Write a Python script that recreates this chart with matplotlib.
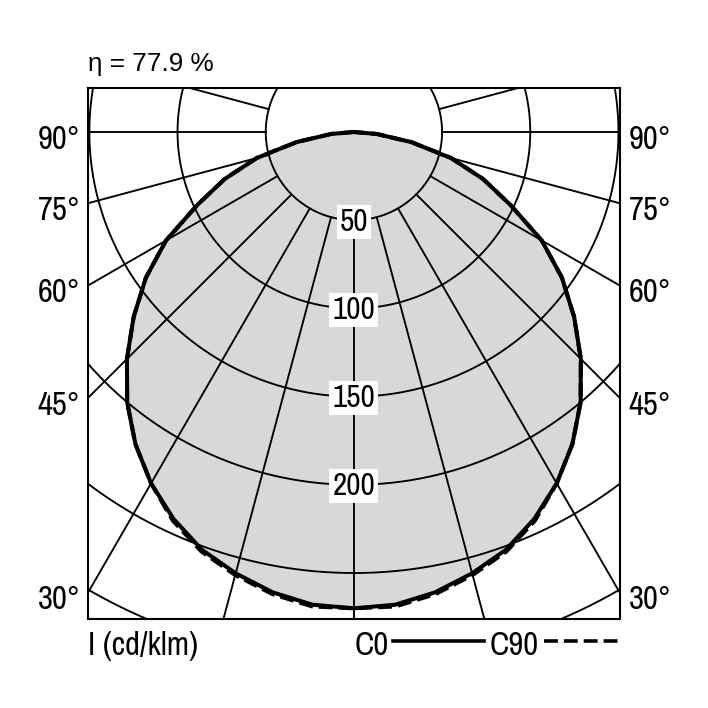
import numpy as np
import matplotlib
matplotlib.use('Agg')
import matplotlib.pyplot as plt
from matplotlib.lines import Line2D
from matplotlib import font_manager

# ---------------- data ----------------
gamma = [0, 5, 10, 15, 20, 25, 30, 35, 40, 45, 50, 55, 60, 65, 70, 75, 80, 85, 90]
c0 = [270, 269, 265, 259, 252, 242, 230, 216, 200, 182, 163, 144, 123, 98, 78, 57, 33, 13, 0]
c90 = [270, 270, 266, 260, 253, 243, 230, 216, 200, 182, 163, 144, 123, 98, 78, 57, 33, 13, 0]
rings = [50, 100, 150, 200, 250, 300, 350]
ring_labels = [50, 100, 150, 200]
spoke_step = 15
angle_labels = [90, 75, 60, 45, 30]
eta_text = "η = 77.9 %"
unit_text = "I (cd/klm)"
series_names = ["C0", "C90"]

# ---------------- fonts ----------------
narrow_fp = None
for f in font_manager.fontManager.ttflist:
    nm = f.name.lower()
    if 'dejavu' in nm:
        continue
    if ('narrow' in nm or 'condensed' in nm) and f.style == 'normal' and f.weight in (400, 'normal', 'regular'):
        narrow_fp = f.fname
        break

if narrow_fp:
    def NF(size):
        return font_manager.FontProperties(fname=narrow_fp, size=size)
    lab_size, ring_size = 23.5, 22.5
else:
    def NF(size):
        return font_manager.FontProperties(family=['Liberation Sans', 'DejaVu Sans'], size=size)
    lab_size, ring_size = 21, 20

plt.rcParams['lines.scale_dashes'] = False

W = 708
fig = plt.figure(figsize=(7.08, 7.08), dpi=100)
fig.patch.set_facecolor('white')

def fx(px):
    return px / W

def fy(py):
    return 1 - py / W

L, R, T, B = 88.3, 619.5, 87.7, 618.7
ax = fig.add_axes([fx(L), fy(B), (R - L) / W, (B - T) / W])
ax.set_xlim(-150.6, 150.6)
ax.set_ylim(-275.9, 25.1)
ax.set_xticks([])
ax.set_yticks([])
for s in ax.spines.values():
    s.set_linewidth(1.5)
    s.set_color('black')
    s.set_zorder(6)

def curve(vals):
    g = np.radians(np.concatenate([-np.array(gamma[::-1]), np.array(gamma[1:])]))
    I = np.concatenate([np.array(vals[::-1]), np.array(vals[1:])])
    return I * np.sin(g), -I * np.cos(g)

x0, y0 = curve(c0)
x9, y9 = curve(c90)

ax.fill(x9, y9, color='#d8d8d8', zorder=1, lw=0)
ax.fill(x0, y0, color='#d8d8d8', zorder=1, lw=0)

# grid
th = np.linspace(0, 2 * np.pi, 1441)
for r in rings:
    ax.plot(r * np.cos(th), r * np.sin(th), color='black', lw=1.35, zorder=2)
for a in range(0, 360, spoke_step):
    ar = np.radians(a)
    ax.plot([rings[0] * np.sin(ar), 450 * np.sin(ar)], [-rings[0] * np.cos(ar), -450 * np.cos(ar)],
            color='black', lw=1.35, zorder=2)

# curves
ax.plot(x9, y9, color='black', lw=2.9, ls=(0, (10, 4.3)), zorder=3)
ax.plot(x0, y0, color='black', lw=2.9, zorder=3.5, solid_joinstyle='round')

# ring labels
for r in ring_labels:
    ax.annotate(str(r), xy=(0, -r), xycoords='data', xytext=(0, -10.5), textcoords='offset pixels',
                ha='center', va='baseline', fontproperties=NF(ring_size), zorder=5,
                bbox=dict(boxstyle='square,pad=0.1', fc='white', ec='none'))

# angle labels
xmin, xmax = ax.get_xlim()
for a in angle_labels:
    ar = np.radians(a)
    yl = -xmax / np.tan(ar) if a != 90 else 0.0
    ax.annotate(f"{a}°", xy=(xmin, yl), xycoords='data', xytext=(-8, -17), textcoords='offset pixels',
                ha='right', va='baseline', fontproperties=NF(lab_size), annotation_clip=False)
    ax.annotate(f"{a}°", xy=(xmax, yl), xycoords='data', xytext=(9, -17), textcoords='offset pixels',
                ha='left', va='baseline', fontproperties=NF(lab_size), annotation_clip=False)

# title
fig.text(fx(88), fy(71), eta_text, ha='left', va='baseline',
         fontproperties=font_manager.FontProperties(family=['Liberation Sans', 'DejaVu Sans'], size=18.8))

# bottom
fig.text(fx(88), fy(655), unit_text, ha='left', va='baseline', fontproperties=NF(lab_size))
fig.text(fx(389), fy(655), series_names[0], ha='right', va='baseline', fontproperties=NF(lab_size))
fig.add_artist(Line2D([fx(392.6), fx(484)], [fy(641), fy(641)], transform=fig.transFigure,
                      color='black', lw=2.6))
fig.text(fx(539), fy(655), series_names[1], ha='right', va='baseline', fontproperties=NF(lab_size))
fig.add_artist(Line2D([fx(543.6), fx(618)], [fy(641), fy(641)], transform=fig.transFigure,
                      color='black', lw=2.6, ls=(0, (10, 4.3))))

fig.savefig('out.png', dpi=100, facecolor='white')
